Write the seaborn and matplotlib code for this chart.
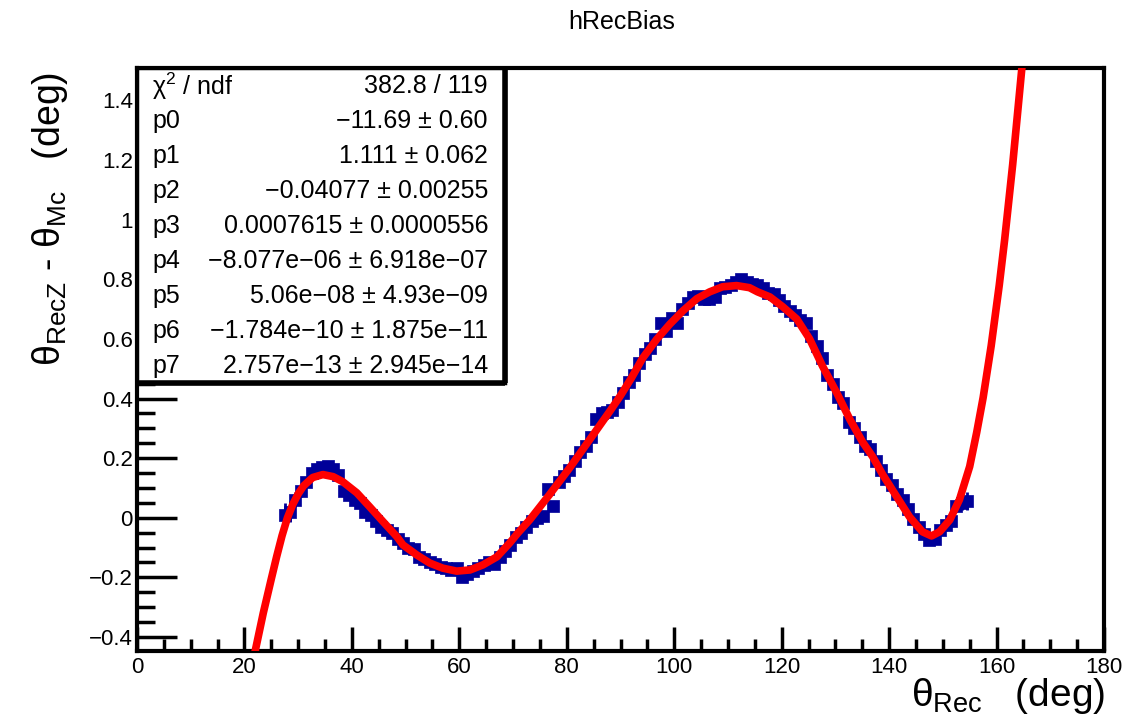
import numpy as np
import matplotlib
matplotlib.use("Agg")
import matplotlib.pyplot as plt
import seaborn as sns
from matplotlib.ticker import MultipleLocator, FuncFormatter
from matplotlib.patches import Rectangle

# ---------------- data ----------------
bin_centers = np.arange(27.5, 155.0, 1.0)  # 128 profile bins, 1 deg wide

bias_values = [
    0.010, 0.020, 0.060, 0.090, 0.120, 0.150, 0.165, 0.170, 0.175, 0.165,   # 27.5-36.5
    0.145, 0.090, 0.075, 0.060, 0.050, 0.020, 0.010, -0.010, -0.030, -0.040,  # 37.5-46.5
    -0.050, -0.070, -0.085, -0.100, -0.105, -0.130, -0.140, -0.150, -0.155, -0.165,  # 47.5-56.5
    -0.170, -0.175, -0.170, -0.200, -0.190, -0.180, -0.170, -0.160, -0.150, -0.155,  # 57.5-66.5
    -0.130, -0.110, -0.090, -0.065, -0.050, -0.030, -0.010, 0.000, 0.005, 0.095,    # 67.5-76.5
    0.040, 0.120, 0.140, 0.160, 0.190, 0.220, 0.240, 0.270, 0.330, 0.350,         # 77.5-86.5
    0.355, 0.360, 0.390, 0.420, 0.455, 0.480, 0.520, 0.550, 0.570, 0.600,         # 87.5-96.5
    0.655, 0.625, 0.670, 0.655, 0.700, 0.720, 0.740, 0.745, 0.735, 0.735,         # 97.5-106.5
    0.740, 0.770, 0.775, 0.780, 0.790, 0.800, 0.790, 0.785, 0.780, 0.770,         # 107.5-116.5
    0.755, 0.750, 0.730, 0.710, 0.695, 0.680, 0.665, 0.655, 0.610, 0.575,         # 117.5-126.5
    0.535, 0.480, 0.450, 0.405, 0.385, 0.320, 0.300, 0.270, 0.240, 0.230,         # 127.5-136.5
    0.190, 0.160, 0.130, 0.110, 0.080, 0.060, 0.030, -0.005, -0.030, -0.055,       # 137.5-146.5
    -0.075, -0.070, -0.040, -0.025, -0.010, 0.040, 0.050, 0.055,                   # 147.5-154.5
]

bias_errors = [
    0.040, 0.035, 0.025, 0.020, 0.018, 0.016, 0.015, 0.015, 0.015, 0.015,
    0.014, 0.014, 0.014, 0.014, 0.013, 0.013, 0.013, 0.013, 0.013, 0.013,
    0.013, 0.013, 0.013, 0.013, 0.013, 0.013, 0.013, 0.013, 0.013, 0.013,
    0.013, 0.013, 0.013, 0.013, 0.013, 0.013, 0.013, 0.013, 0.013, 0.013,
    0.013, 0.013, 0.013, 0.013, 0.013, 0.013, 0.013, 0.013, 0.013, 0.013,
    0.013, 0.013, 0.013, 0.013, 0.013, 0.013, 0.013, 0.013, 0.013, 0.013,
    0.013, 0.013, 0.013, 0.013, 0.013, 0.013, 0.013, 0.013, 0.013, 0.013,
    0.013, 0.013, 0.013, 0.013, 0.013, 0.013, 0.013, 0.013, 0.013, 0.013,
    0.013, 0.013, 0.013, 0.013, 0.013, 0.013, 0.013, 0.013, 0.013, 0.013,
    0.013, 0.013, 0.013, 0.013, 0.013, 0.013, 0.013, 0.013, 0.013, 0.013,
    0.013, 0.013, 0.013, 0.013, 0.013, 0.013, 0.013, 0.013, 0.013, 0.013,
    0.013, 0.013, 0.013, 0.013, 0.013, 0.013, 0.013, 0.014, 0.014, 0.015,
    0.015, 0.016, 0.016, 0.018, 0.020, 0.022, 0.025, 0.030,
]

# fitted pol7 curve
fit_x = [21.5, 22.0, 23.5, 25.0, 26.0, 27.0, 28.0, 29.0, 30.0, 31.0, 32.7, 34.6,
         36.5, 38.3, 40.9, 43.3, 45.8, 48.4, 49.5, 52.1, 54.5, 56.9, 59.5, 62.0,
         64.4, 67.0, 69.4, 70.9, 73.1, 76.8, 80.6, 84.3, 88.0, 90.0, 92.0, 94.1,
         96.7, 99.2, 101.6, 104.2, 106.6, 109.0, 111.6, 114.0, 115.5, 117.8, 120.2,
         122.8, 125.2, 127.6, 130.2, 132.7, 135.1, 136.9, 138.8, 141.4, 143.8,
         146.2, 147.9, 149.4, 151.3, 153.1, 155.0, 156.3, 157.5, 159.0, 160.5,
         161.5, 163.0, 164.65, 165.3]
fit_y = [-0.49, -0.447, -0.32, -0.205, -0.13, -0.06, 0.000, 0.045, 0.080, 0.107,
         0.135, 0.145, 0.138, 0.121, 0.084, 0.037, -0.013, -0.064, -0.091, -0.125,
         -0.152, -0.169, -0.179, -0.175, -0.158, -0.131, -0.084, -0.051, -0.007,
         0.078, 0.169, 0.263, 0.357, 0.410, 0.468, 0.535, 0.598, 0.650, 0.694,
         0.735, 0.758, 0.775, 0.779, 0.772, 0.758, 0.741, 0.708, 0.667, 0.600,
         0.509, 0.421, 0.330, 0.253, 0.206, 0.145, 0.071, 0.003, -0.047, -0.061,
         -0.047, -0.007, 0.061, 0.172, 0.286, 0.403, 0.577, 0.780, 0.932, 1.185,
         1.497, 1.630]

stat_names = ["$χ^{2}$ / ndf", "p0", "p1", "p2", "p3", "p4", "p5", "p6", "p7"]
stat_values = ["382.8 / 119",
               "−11.69 ± 0.60",
               "1.111 ± 0.062",
               "−0.04077 ± 0.00255",
               "0.0007615 ± 0.0000556",
               "−8.077e−06 ± 6.918e−07",
               "5.06e−08 ± 4.93e−09",
               "−1.784e−10 ± 1.875e−11",
               "2.757e−13 ± 2.945e−14"]

# ---------------- style ----------------
sns.set_theme(style="white")
plt.rcParams["font.family"] = ["Liberation Sans", "DejaVu Sans"]
plt.rcParams["mathtext.default"] = "regular"
plt.rcParams["axes.unicode_minus"] = True
plt.rcParams["text.color"] = "black"
plt.rcParams["xtick.color"] = "black"
plt.rcParams["ytick.color"] = "black"

W, H = 1148, 724
fig = plt.figure(figsize=(W / 100, H / 100), dpi=100)
fig.patch.set_facecolor("white")

L, R, T, B = 137, 1104, 68, 651
ax = fig.add_axes([L / W, 1 - B / H, (R - L) / W, (B - T) / H])
ax.set_facecolor("white")

ax.set_xlim(0, 180)
ax.set_ylim(-0.447, 1.509)

# data markers with error bars
ax.errorbar(bin_centers, bias_values, yerr=bias_errors, fmt="none",
            ecolor="#000099", elinewidth=2.0, capsize=0, zorder=3)
sns.scatterplot(x=bin_centers, y=bias_values, marker="s", s=72, color="#000099",
                edgecolor="#000099", linewidth=0.5, ax=ax, zorder=4, legend=False)

# fit curve
sns.lineplot(x=fit_x, y=fit_y, color="#ff0000", linewidth=5.5, sort=False,
             ax=ax, zorder=5, legend=False)

# axes styling (ROOT like)
for s in ["left", "bottom", "top", "right"]:
    ax.spines[s].set_linewidth(3)
    ax.spines[s].set_color("black")
ax.xaxis.set_major_locator(MultipleLocator(20))
ax.xaxis.set_minor_locator(MultipleLocator(5))
ax.yaxis.set_major_locator(MultipleLocator(0.2))
ax.yaxis.set_minor_locator(MultipleLocator(0.05))
ax.tick_params(axis="x", which="major", direction="in", length=17, width=2.5,
               labelsize=16, pad=4, bottom=True, top=False, color="black",
               labelcolor="black")
ax.tick_params(axis="x", which="minor", direction="in", length=9, width=2.5,
               bottom=True, top=False, color="black")
ax.tick_params(axis="y", which="major", direction="in", length=29, width=2.5,
               labelsize=16, pad=3, left=True, right=False, color="black",
               labelcolor="black")
ax.tick_params(axis="y", which="minor", direction="in", length=13, width=2.5,
               left=True, right=False, color="black")


def fmt(v, pos):
    s = f"{round(v, 6):g}"
    return s.replace("-", "−")


ax.xaxis.set_major_formatter(FuncFormatter(fmt))
ax.yaxis.set_major_formatter(FuncFormatter(fmt))
ax.set_xlabel("")
ax.set_ylabel("")

# stats box
bx0, bx1 = 0.0, (505 - L) / (R - L)
by0, by1 = (B - 383) / (B - T), 1.0
ax.add_patch(Rectangle((bx0, by0), bx1 - bx0, by1 - by0, transform=ax.transAxes,
                       facecolor="white", edgecolor="black", linewidth=2.5, zorder=10))
ax.plot([bx1, bx1], [by0, by1], transform=ax.transAxes, color="black", lw=4,
        zorder=11, solid_capstyle="butt")
ax.plot([bx0, bx1], [by0, by0], transform=ax.transAxes, color="black", lw=4,
        zorder=11, solid_capstyle="butt")
for i, (nm, val) in enumerate(zip(stat_names, stat_values)):
    ypix = 86 + 35 * i
    yf = (B - ypix) / (B - T)
    ax.text((152 - L) / (R - L), yf, nm, transform=ax.transAxes, ha="left",
            va="center", fontsize=18, zorder=12)
    ax.text((488 - L) / (R - L), yf, val, transform=ax.transAxes, ha="right",
            va="center", fontsize=18, zorder=12)

# titles
fig.text(622 / W, 1 - 22 / H, "hRecBias", ha="center", va="center", fontsize=18)
fig.text(1105 / W, 1 - 706 / H, "$θ_{Rec}$   (deg)", ha="right", va="baseline",
         fontsize=28)
fig.text(50 / W, 1 - 72 / H, "$θ_{RecZ}$ - $θ_{Mc}$   (deg)", ha="center", va="top",
         rotation=90, fontsize=27)

fig.savefig("out.png", dpi=100, facecolor="white")
